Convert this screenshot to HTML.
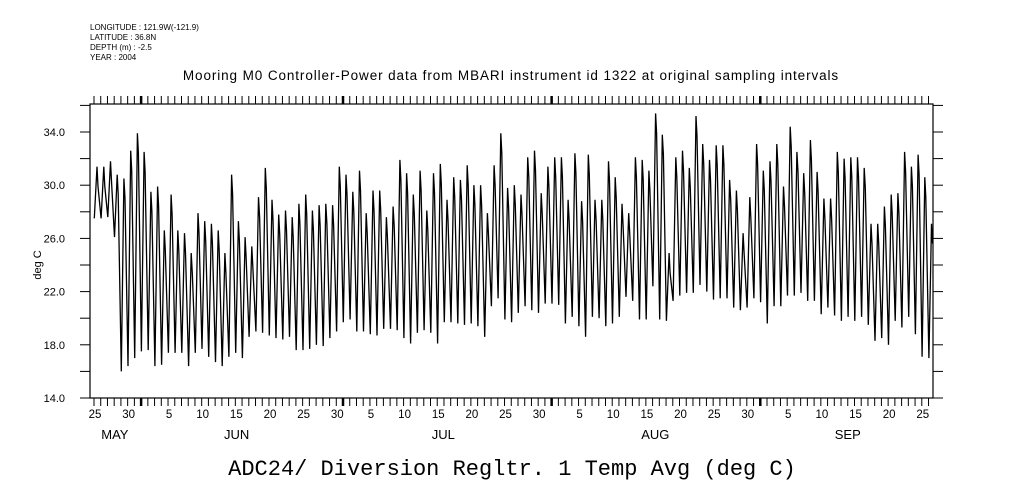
<!DOCTYPE html>
<html><head><meta charset="utf-8"><style>
body{margin:0;background:#fff;}
svg{display:block;font-family:"Liberation Sans",sans-serif;}
</style></head><body>
<svg id="chart" width="1009" height="504" viewBox="0 0 1009 504" xmlns="http://www.w3.org/2000/svg">
<rect width="1009" height="504" fill="#fff"/>
<g font-size="8" fill="#000">
<text x="90" y="30">LONGITUDE : 121.9W(-121.9)</text>
<text x="90" y="40">LATITUDE : 36.8N</text>
<text x="90" y="50">DEPTH (m) : -2.5</text>
<text x="90" y="60">YEAR : 2004</text>
</g>
<text x="511" y="80" font-size="13.5" letter-spacing="0.9" text-anchor="middle">Mooring M0 Controller-Power data from MBARI instrument id 1322 at original sampling intervals</text>
<text x="512" y="475" font-size="22" text-anchor="middle" font-family="Liberation Mono, monospace">ADC24/ Diversion Regltr. 1 Temp Avg (deg C)</text>
<text transform="translate(41,265) rotate(-90)" font-size="11" text-anchor="middle">deg C</text>
<g id="axes"></g>
<polyline id="series" fill="none" stroke="#000" stroke-width="1.3"/>
</svg>
<script>
const maxVals=[31.4,31.4,31.8,30.8,30.5,32.6,33.9,32.5,29.5,29.9,26.6,29.3,26.6,26.4,24.9,27.9,27.3,27.1,26.6,24.9,30.8,27.3,26.1,25.4,29.1,31.3,28.9,27.8,28.1,27.6,28.6,29.3,28.1,28.5,28.6,28.5,31.4,30.8,29.5,31.1,27.9,
29.6,29.6,27.6,28.4,31.9,30.9,29.3,31.1,28.1,30.9,31.6,28.9,30.6,30.4,31.5,30.0,30.0,27.9,31.5,33.9,29.8,30.0,29.3,32.1,32.6,29.4,31.4,32.1,32.1,28.9,32.4,28.8,32.3,28.9,28.9,31.8,30.6,28.6,27.9,32.1,31.9,31.1,35.4,33.8,
24.9,32.1,32.6,31.3,35.2,33.1,31.9,33.0,33.0,30.4,29.6,26.4,29.1,33.1,31.1,31.8,33.1,29.9,34.4,32.5,30.9,33.4,31.0,29.0,29.0,32.5,32.0,32.1,32.1,31.3,27.1,27.1,28.4,29.3,29.4,32.5,31.4,32.3,30.6,27.1];
const minVals=[27.5,27.5,27.6,26.1,16.0,16.4,17.0,17.5,17.6,16.4,16.5,17.4,17.4,17.4,16.4,17.4,17.7,17.1,16.7,16.4,17.1,17.4,17.0,18.6,19.0,18.9,18.7,18.5,18.4,18.6,17.6,17.6,17.7,18.0,17.9,18.5,19.0,19.7,19.9,19.0,19.0,
18.8,18.7,19.2,19.2,19.1,18.5,18.1,18.9,19.1,18.9,18.1,19.7,19.7,19.6,19.5,19.6,19.4,18.6,20.9,21.5,19.9,19.7,20.4,20.9,20.6,20.4,21.1,21.1,21.0,19.6,20.1,19.4,18.6,20.1,20.0,19.4,19.6,20.1,21.6,21.3,19.9,19.9,22.4,19.9,
19.8,21.3,21.7,21.9,21.9,22.5,22.0,21.4,21.5,21.5,20.8,20.6,20.8,21.5,21.2,19.6,20.9,20.9,21.7,21.7,21.9,21.3,21.3,20.3,20.8,20.2,19.8,20.1,19.8,20.1,19.5,18.3,18.5,18.0,19.8,19.3,20.1,18.8,17.1,17.0];
const yTicks=[14.0,18.0,22.0,26.0,30.0,34.0];
const labelMonths=[0,0,1,1,1,1,1,1,2,2,2,2,2,2,3,3,3,3,3,3,4,4,4,4,4];
const labelDays=[25,30,5,10,15,20,25,30,5,10,15,20,25,30,5,10,15,20,25,30,5,10,15,20,25];
const monthNames=["MAY","JUN","JUL","AUG","SEP"];
const monthOffset=[-25,6,36,67,98]; // day index = offset + day-of-month (May25 = 0)
const monthStarts=[7,37,68,99];
const monthLabelDays=[3.1,21.2,51.9,83.4,112];
const NS="http://www.w3.org/2000/svg";
const L=90,R=933,T=104,B=398;
const x=d=>94+d*6.73;
const y=v=>398-(v-14)*13.3;
const ax=document.getElementById('axes');
function mk(tag,attrs,parent){const e=document.createElementNS(NS,tag);for(const k in attrs)e.setAttribute(k,attrs[k]);(parent||ax).appendChild(e);return e;}
const frame=mk('rect',{x:L,y:T,width:R-L,height:B-T,fill:'none',stroke:'#000','stroke-width':1.2});


for(let d=0;d<=124;d++){
  const major=monthStarts.includes(d);
  const w=major?2.5:1;
  const t1=mk('line',{x1:x(d),x2:x(d),y1:T-8,y2:T,stroke:'#000','stroke-width':w});
  
  
  const t2=mk('line',{x1:x(d),x2:x(d),y1:B,y2:B+8,stroke:'#000','stroke-width':w});
  
  
}
labelDays.forEach((s,i)=>{
  const d=monthOffset[labelMonths[i]]+s;
  const t=mk('text',{x:x(d)+1,y:418,'font-size':11.5,'text-anchor':'middle'});
  t.textContent=String(s);
  
  
});
monthNames.forEach((m,i)=>{
  const t=mk('text',{x:x(monthLabelDays[i]),y:439,'font-size':13,'text-anchor':'middle'});
  t.textContent=m;
  
  
});
for(let v=14;v<=36;v+=2){
  const yy=y(v);
  const a=mk('line',{x1:L-10,x2:L,y1:yy,y2:yy,stroke:'#000','stroke-width':1});
  
  
  const b=mk('line',{x1:R,x2:R+10,y1:yy,y2:yy,stroke:'#000','stroke-width':1});
  
  
}
yTicks.forEach(v=>{
  const t=mk('text',{x:65,y:y(v)+4,'font-size':11,'text-anchor':'end'});
  t.textContent=v.toFixed(1);
  
  
});
let pts=[];
for(let i=0;i<maxVals.length;i++){
  pts.push(x(i+0.05).toFixed(1)+','+y(minVals[i]).toFixed(1));
  pts.push(x(i+0.45).toFixed(1)+','+y(maxVals[i]).toFixed(1));
  pts.push(x(i+0.6).toFixed(1)+','+y(maxVals[i]-1.5).toFixed(1));
}
document.getElementById('series').setAttribute('points',pts.join(' '));
</script>
</body></html>
